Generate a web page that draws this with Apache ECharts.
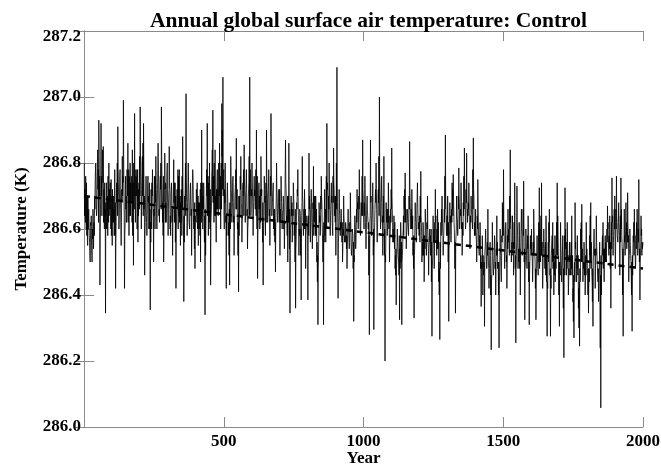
<!DOCTYPE html>
<html>
<head>
<meta charset="utf-8">
<script src="https://cdn.jsdelivr.net/npm/echarts@6/dist/echarts.min.js"></script>
<style>html,body{margin:0;padding:0;background:#fff}#c{width:661px;height:466px}</style>
</head>
<body>
<div id="c"></div>
<script>
const TITLE = 'Annual global surface air temperature: Control';
const X_NAME = 'Year';
const Y_NAME = 'Temperature (K)';
const X_TICKS = [500, 1000, 1500, 2000];
const Y_TICKS = [286.0, 286.2, 286.4, 286.6, 286.8, 287.0, 287.2];
const YEAR_START = 1;
const YEAR_STEP = 1;
// years 1,5,9,... (peaks/troughs)
const temps1 = [286.80,286.62,286.74,286.55,286.66,286.52,286.61,286.50,286.64,286.58,
286.78,286.64,286.84,286.93,286.43,286.92,286.70,286.85,286.60,286.345,
286.72,286.58,286.80,286.66,286.75,286.55,286.70,286.62,286.42,286.74,
286.91,286.60,286.78,286.55,286.82,286.99,286.42,286.76,286.64,286.86,
286.58,286.80,286.68,286.84,286.49,286.95,286.62,286.78,286.56,286.74,
286.97,286.60,286.82,286.92,286.46,286.70,286.58,286.76,286.64,286.355,
286.68,286.78,286.50,286.72,286.82,286.60,286.86,286.66,286.76,286.97,
286.62,286.50,286.83,286.68,286.78,286.58,286.85,286.64,286.74,286.52,
286.81,286.66,286.42,286.72,286.60,286.78,286.55,286.70,286.88,286.38,
286.66,287.01,286.58,286.80,286.62,286.74,286.52,286.78,286.60,286.48];
const temps2 = [286.62,286.74,286.55,286.68,286.50,286.90,286.60,286.72,286.34,286.66,
286.92,286.58,286.80,286.43,286.76,286.96,286.62,286.84,286.56,286.78,
286.66,286.86,286.60,286.98,287.06,286.64,286.80,286.42,286.74,286.58,
286.43,286.82,286.62,286.76,286.52,286.72,286.875,286.60,286.41,286.70,
286.82,286.56,286.74,286.855,286.62,286.78,286.54,286.70,287.06,286.64,
286.80,286.58,286.76,286.66,286.90,286.45,286.72,286.60,286.82,286.64,
286.43,286.76,286.58,286.90,286.62,286.78,286.55,286.95,286.66,286.74,
286.58,286.47,286.80,286.62,286.72,286.52,286.76,286.60,286.70,286.54,
286.87,286.62,286.50,286.86,286.345,286.70,286.56,286.74,286.60,286.36,
286.68,286.78,286.52,286.66,286.385,286.82,286.58,286.72,286.48,286.64];
const temps3 = [286.385,286.83,286.60,286.72,286.54,286.79,286.62,286.70,286.50,286.31,
286.68,286.58,286.76,286.62,286.31,286.72,286.56,286.92,286.64,286.80,
286.58,286.74,286.62,286.845,286.66,286.52,287.09,286.39,286.72,286.58,
286.66,286.50,286.70,286.56,286.62,286.48,286.66,286.54,286.71,286.52,
286.60,286.32,286.64,286.56,286.72,286.60,286.78,286.58,286.68,286.87,
286.62,286.76,286.54,286.70,286.60,286.28,286.87,286.58,286.74,286.295,
286.66,286.80,286.56,286.72,287.00,286.60,286.76,286.52,286.82,286.20,
286.68,286.58,286.74,286.50,286.66,286.845,286.56,286.64,286.48,286.37,
286.60,286.52,286.325,286.62,286.31,286.58,286.70,286.77,286.54,286.66,
286.58,286.865,286.60,286.72,286.52,286.33,286.68,286.56,286.74,286.60];
const temps4 = [286.60,286.775,286.50,286.62,286.44,286.66,286.52,286.70,286.46,286.60,
286.54,286.275,286.64,286.48,286.72,286.56,286.66,286.44,286.265,286.62,
286.70,286.52,286.66,286.885,286.58,286.70,286.32,286.68,286.56,286.74,
286.765,286.60,286.345,286.70,286.58,286.785,286.62,286.74,286.52,286.68,
286.845,286.60,286.83,286.66,286.74,286.54,286.70,286.62,286.876,286.58,
286.66,286.50,286.75,286.56,286.62,286.365,286.58,286.46,286.305,286.60,
286.48,286.66,286.42,286.56,286.234,286.62,286.46,286.58,286.40,286.64,
286.50,286.24,286.60,286.44,286.68,286.78,286.48,286.62,286.42,286.66,
286.54,286.84,286.50,286.64,286.46,286.74,286.255,286.73,286.48,286.62,
286.40,286.66,286.52,286.745,286.325,286.60,286.48,286.64,286.31,286.58];
const temps5 = [286.60,286.44,286.66,286.52,286.325,286.58,286.46,286.725,286.50,286.74,
286.42,286.60,286.48,286.64,286.275,286.56,286.66,286.275,286.52,286.62,
286.40,286.58,286.48,286.74,286.54,286.305,286.62,286.44,286.58,286.21,
286.725,286.50,286.62,286.40,286.56,286.46,286.64,286.38,286.27,286.68,
286.46,286.58,286.36,286.245,286.60,286.675,286.44,286.56,286.40,286.62,
286.48,286.345,286.58,286.68,286.46,286.305,286.60,286.42,286.64,286.50,
286.38,286.56,286.058,286.52,286.62,286.44,286.58,286.50,286.67,286.54,
286.64,286.36,286.755,286.52,286.66,286.48,286.76,286.58,286.68,286.46,
286.755,286.56,286.275,286.66,286.52,286.62,286.71,286.44,286.60,286.50,
286.29,286.58,286.66,286.48,286.62,286.52,286.75,286.385,286.64,286.56];
// years 2,6,10,... (band core)
const qa1 = [286.64,286.76,286.58,286.70,286.62,286.50,286.64,286.60,286.54,286.70,
286.80,286.66,286.72,286.82,286.60,286.70,286.84,286.62,286.74,286.68,
286.60,286.76,286.64,286.74,286.58,286.72,286.62,286.78,286.56,286.68,
286.78,286.64,286.72,286.62,286.70,286.80,286.58,286.66,286.78,286.62,
286.76,286.64,286.74,286.58,286.80,286.70,286.76,286.60,286.72,286.66,
286.84,286.66,286.70,286.78,286.58,286.76,286.62,286.68,286.74,286.62,
286.60,286.72,286.66,286.60,286.74,286.66,286.80,286.62,286.72,286.82,
286.68,286.60,286.72,286.62,286.80,286.66,286.74,286.58,286.70,286.62,
286.68,286.74,286.60,286.66,286.76,286.62,286.68,286.58,286.74,286.64,
286.72,286.78,286.62,286.74,286.60,286.70,286.62,286.76,286.64,286.58];
const qa2 = [286.72,286.60,286.68,286.62,286.74,286.64,286.70,286.60,286.66,286.72,
286.64,286.74,286.70,286.62,286.78,286.68,286.80,286.64,286.72,286.66,
286.80,286.66,286.74,286.82,286.70,286.60,286.72,286.64,286.70,286.62,
286.68,286.76,286.62,286.70,286.60,286.74,286.66,286.62,286.70,286.64,
286.74,286.62,286.70,286.76,286.66,286.72,286.60,286.74,286.70,286.66,
286.74,286.64,286.70,286.72,286.66,286.58,286.74,286.66,286.76,286.62,
286.58,286.72,286.66,286.76,286.64,286.72,286.62,286.80,286.68,286.60,
286.66,286.60,286.72,286.64,286.68,286.62,286.72,286.64,286.68,286.60,
286.74,286.64,286.60,286.70,286.56,286.64,286.60,286.70,286.62,286.54,
286.66,286.70,286.60,286.64,286.56,286.70,286.62,286.66,286.58,286.64];
const qa3 = [286.60,286.66,286.56,286.68,286.62,286.58,286.70,286.62,286.56,286.48,
286.66,286.60,286.70,286.56,286.62,286.58,286.68,286.72,286.62,286.74,
286.64,286.68,286.58,286.74,286.70,286.60,286.74,286.56,286.66,286.62,
286.60,286.54,286.64,286.58,286.60,286.54,286.62,286.56,286.64,286.52,
286.58,286.52,286.62,286.60,286.66,286.62,286.70,286.60,286.64,286.72,
286.60,286.70,286.58,286.66,286.62,286.50,286.68,286.62,286.68,286.54,
286.66,286.72,286.60,286.68,286.76,286.62,286.70,286.58,286.66,286.52,
286.64,286.60,286.68,286.56,286.62,286.70,286.60,286.58,286.52,286.48,
286.56,286.50,286.54,286.58,286.50,286.60,286.66,286.68,286.58,286.64,
286.62,286.72,286.62,286.66,286.56,286.52,286.64,286.58,286.68,286.62];
const qa4 = [286.56,286.64,286.54,286.60,286.50,286.62,286.56,286.60,286.52,286.56,
286.60,286.48,286.58,286.54,286.62,286.52,286.60,286.50,286.56,286.58,
286.64,286.56,286.62,286.70,286.60,286.64,286.54,286.62,286.58,286.66,
286.70,286.60,286.56,286.64,286.60,286.70,286.62,286.68,286.58,286.64,
286.72,286.62,286.70,286.64,286.68,286.58,286.66,286.60,286.72,286.62,
286.60,286.54,286.66,286.52,286.58,286.50,286.54,286.46,286.52,286.56,
286.50,286.56,286.46,286.52,286.44,286.54,286.48,286.56,286.46,286.52,
286.48,286.44,286.54,286.50,286.58,286.62,286.52,286.58,286.48,286.56,
286.52,286.62,286.54,286.58,286.50,286.60,286.48,286.62,286.52,286.58,
286.50,286.60,286.54,286.62,286.48,286.56,286.52,286.58,286.46,286.54];
const qa5 = [286.54,286.48,286.60,286.50,286.44,286.52,286.56,286.48,286.58,286.52,
286.46,286.56,286.50,286.58,286.44,286.50,286.54,286.46,286.56,286.48,
286.50,286.44,286.56,286.52,286.46,286.50,286.56,286.48,286.44,286.52,
286.54,286.46,286.56,286.44,286.50,286.52,286.46,286.42,286.48,286.54,
286.44,286.50,286.42,286.48,286.54,286.50,286.46,286.52,286.44,286.50,
286.46,286.42,286.52,286.48,286.44,286.50,286.54,286.48,286.56,286.50,
286.46,286.40,286.52,286.56,286.48,286.54,286.50,286.56,286.60,286.52,
286.58,286.50,286.62,286.56,286.60,286.54,286.64,286.56,286.62,286.54,
286.60,286.52,286.48,286.56,286.60,286.54,286.62,286.50,286.56,286.46,
286.52,286.56,286.60,286.50,286.58,286.54,286.62,286.50,286.58,286.54];
// years 3,7,11,... (band core)
const mid1 = [286.72,286.68,286.64,286.60,286.58,286.56,286.55,286.57,286.60,286.66,
286.72,286.74,286.78,286.70,286.66,286.76,286.78,286.72,286.64,286.60,
286.66,286.70,286.72,286.68,286.64,286.62,286.66,286.58,286.62,286.80,
286.74,286.70,286.66,286.72,286.76,286.70,286.62,286.70,286.74,286.72,
286.70,286.74,286.76,286.66,286.72,286.78,286.70,286.66,286.64,286.82,
286.76,286.72,286.86,286.66,286.62,286.64,286.68,286.70,286.60,286.56,
286.74,286.66,286.64,286.76,286.70,286.72,286.74,286.70,286.80,286.74,
286.58,286.66,286.74,286.72,286.68,286.70,286.72,286.70,286.62,286.66,
286.74,286.56,286.60,286.66,286.70,286.66,286.62,286.76,286.62,286.56,
286.80,286.70,286.68,286.70,286.66,286.64,286.68,286.70,286.54,286.62];
const mid2 = [286.68,286.64,286.62,286.58,286.70,286.74,286.66,286.56,286.52,286.78,
286.72,286.68,286.60,286.62,286.84,286.76,286.72,286.70,286.66,286.72,
286.74,286.72,286.80,286.90,286.76,286.72,286.62,286.58,286.66,286.52,
286.64,286.72,286.68,286.62,286.64,286.78,286.70,286.52,286.58,286.76,
286.68,286.64,286.78,286.72,286.70,286.64,286.62,286.82,286.78,286.72,
286.70,286.68,286.72,286.78,286.60,286.62,286.66,286.72,286.70,286.56,
286.62,286.68,286.74,286.72,286.70,286.64,286.76,286.74,286.70,286.64,
286.56,286.66,286.70,286.66,286.62,286.66,286.68,286.64,286.60,286.70,
286.72,286.58,286.70,286.54,286.60,286.64,286.66,286.68,286.50,286.56,
286.72,286.64,286.58,286.52,286.64,286.68,286.66,286.60,286.58,286.62];
const mid3 = [286.64,286.70,286.66,286.62,286.68,286.70,286.66,286.58,286.44,286.52,
286.62,286.70,286.68,286.50,286.56,286.62,286.76,286.74,286.70,286.68,
286.66,286.70,286.76,286.72,286.62,286.80,286.68,286.58,286.64,286.60,
286.56,286.60,286.62,286.56,286.54,286.58,286.60,286.62,286.58,286.56,
286.48,286.50,286.60,286.66,286.68,286.70,286.66,286.64,286.76,286.70,
286.68,286.62,286.64,286.66,286.46,286.62,286.70,286.64,286.52,286.56,
286.72,286.66,286.64,286.82,286.74,286.68,286.62,286.70,286.52,286.50,
286.62,286.66,286.60,286.56,286.72,286.66,286.58,286.54,286.46,286.50,
286.54,286.46,286.48,286.50,286.52,286.64,286.72,286.62,286.60,286.62,
286.70,286.68,286.66,286.60,286.48,286.54,286.62,286.66,286.64,286.58];
const mid4 = [286.70,286.62,286.56,286.52,286.58,286.60,286.62,286.56,286.52,286.58,
286.44,286.50,286.56,286.62,286.64,286.60,286.54,286.40,286.48,286.66,
286.60,286.58,286.76,286.70,286.64,286.50,286.56,286.64,286.66,286.72,
286.66,286.48,286.56,286.64,286.70,286.68,286.66,286.60,286.62,286.76,
286.70,286.72,286.70,286.68,286.62,286.64,286.66,286.78,286.70,286.60,
286.58,286.64,286.62,286.58,286.48,286.50,286.40,286.48,286.52,286.54,
286.56,286.50,286.48,286.40,286.46,286.52,286.50,286.48,286.54,286.56,
286.40,286.46,286.52,286.58,286.66,286.60,286.54,286.50,286.58,286.60,
286.70,286.64,286.56,286.54,286.62,286.48,286.52,286.60,286.54,286.48,
286.56,286.58,286.66,286.50,286.48,286.54,286.58,286.44,286.50,286.56];
const mid5 = [286.52,286.56,286.58,286.42,286.48,286.52,286.62,286.60,286.64,286.56,
286.52,286.54,286.56,286.44,286.42,286.62,286.46,286.42,286.58,286.50,
286.48,286.52,286.62,286.64,286.40,286.48,286.52,286.50,286.36,286.58,
286.60,286.56,286.50,286.48,286.50,286.56,286.50,286.32,286.50,286.56,
286.52,286.46,286.30,286.44,286.62,286.54,286.50,286.46,286.52,286.54,
286.40,286.48,286.64,286.56,286.38,286.50,286.52,286.54,286.56,286.44,
286.46,286.24,286.40,286.58,286.52,286.50,286.56,286.60,286.62,286.58,
286.48,286.62,286.64,286.58,286.70,286.66,286.62,286.56,286.62,286.64,
286.66,286.40,286.54,286.58,286.68,286.60,286.56,286.52,286.54,286.40,
286.46,286.62,286.56,286.58,286.66,286.60,286.50,286.52,286.60,286.54];
// years 4,8,12,... (band core)
const qb1 = [286.68,286.60,286.70,286.64,286.56,286.62,286.52,286.66,286.62,286.74,
286.66,286.80,286.62,286.76,286.72,286.64,286.74,286.70,286.66,286.74,
286.70,286.62,286.72,286.60,286.70,286.66,286.58,286.68,286.72,286.64,
286.70,286.76,286.60,286.68,286.74,286.64,286.72,286.62,286.70,286.78,
286.64,286.70,286.62,286.74,286.66,286.62,286.72,286.78,286.64,286.70,
286.72,286.80,286.64,286.70,286.68,286.62,286.74,286.60,286.66,286.72,
286.70,286.64,286.76,286.68,286.62,286.78,286.64,286.74,286.66,286.70,
286.76,286.68,286.62,286.74,286.64,286.72,286.60,286.70,286.66,286.74,
286.62,286.70,286.66,286.78,286.64,286.70,286.72,286.66,286.60,286.70,
286.64,286.68,286.74,286.62,286.70,286.66,286.74,286.62,286.68,286.64];
const qb2 = [286.64,286.70,286.60,286.72,286.62,286.68,286.74,286.64,286.60,286.70,
286.76,286.62,286.72,286.66,286.70,286.76,286.64,286.70,286.74,286.64,
286.70,286.76,286.66,286.72,286.78,286.68,286.64,286.70,286.62,286.66,
286.60,286.70,286.74,286.64,286.70,286.66,286.72,286.62,286.66,286.72,
286.66,286.72,286.64,286.70,286.74,286.66,286.70,286.64,286.74,286.70,
286.66,286.72,286.68,286.64,286.76,286.66,286.70,286.62,286.72,286.68,
286.64,286.70,286.62,286.70,286.74,286.66,286.70,286.64,286.72,286.66,
286.62,286.70,286.64,286.68,286.72,286.62,286.68,286.66,286.62,286.70,
286.66,286.70,286.62,286.66,286.62,286.68,286.64,286.58,286.66,286.62,
286.70,286.62,286.66,286.60,286.68,286.64,286.60,286.66,286.62,286.60];
const qb3 = [286.58,286.64,286.68,286.60,286.66,286.62,286.58,286.66,286.52,286.58,
286.64,286.66,286.62,286.58,286.64,286.66,286.60,286.70,286.66,286.62,
286.70,286.62,286.68,286.64,286.70,286.66,286.62,286.64,286.60,286.66,
286.62,286.58,286.56,286.62,286.58,286.62,286.56,286.60,286.54,286.60,
286.56,286.60,286.54,286.62,286.64,286.66,286.60,286.68,286.64,286.66,
286.64,286.58,286.68,286.62,286.58,286.64,286.60,286.66,286.60,286.62,
286.68,286.60,286.70,286.64,286.66,286.70,286.64,286.62,286.60,286.58,
286.66,286.62,286.64,286.60,286.66,286.62,286.56,286.62,286.54,286.56,
286.52,286.58,286.50,286.56,286.54,286.58,286.62,286.66,286.62,286.60,
286.66,286.64,286.60,286.64,286.58,286.62,286.60,286.66,286.60,286.64];
const qb4 = [286.62,286.58,286.52,286.58,286.54,286.56,286.60,286.54,286.58,286.52,
286.56,286.52,286.60,286.56,286.58,286.54,286.62,286.48,286.54,286.62,
286.58,286.62,286.66,286.62,286.58,286.62,286.60,286.58,286.62,286.64,
286.62,286.56,286.60,286.62,286.66,286.60,286.64,286.62,286.58,286.66,
286.64,286.68,286.62,286.66,286.60,286.62,286.64,286.66,286.62,286.58,
286.56,286.60,286.56,286.54,286.52,286.48,286.52,286.50,286.56,286.50,
286.52,286.48,286.54,286.46,286.50,286.48,286.54,286.50,286.52,286.48,
286.50,286.52,286.48,286.56,286.58,286.54,286.56,286.52,286.54,286.58,
286.60,286.56,286.52,286.56,286.54,286.52,286.56,286.54,286.50,286.54,
286.56,286.52,286.58,286.54,286.52,286.50,286.54,286.50,286.54,286.52];
const qb5 = [286.50,286.52,286.54,286.48,286.52,286.48,286.50,286.56,286.52,286.50,
286.54,286.50,286.46,286.52,286.50,286.56,286.48,286.52,286.50,286.54,
286.46,286.50,286.52,286.58,286.50,286.46,286.52,286.50,286.48,286.46,
286.52,286.48,286.52,286.46,286.52,286.48,286.52,286.46,286.44,286.50,
286.48,286.52,286.44,286.46,286.50,286.52,286.48,286.50,286.46,286.52,
286.48,286.44,286.50,286.54,286.48,286.50,286.54,286.52,286.50,286.48,
286.50,286.46,286.48,286.52,286.54,286.56,286.52,286.56,286.58,286.54,
286.56,286.54,286.58,286.62,286.56,286.60,286.58,286.62,286.58,286.56,
286.58,286.54,286.56,286.52,286.58,286.56,286.58,286.54,286.52,286.50,
286.54,286.52,286.56,286.54,286.60,286.56,286.54,286.56,286.52,286.56];
const trendYears = [0, 2000];
const trendTemps = [286.70, 286.48];

const vA = [].concat(temps1, temps2, temps3, temps4, temps5);
const vB = [].concat(qa1, qa2, qa3, qa4, qa5);
const vC = [].concat(mid1, mid2, mid3, mid4, mid5);
const vD = [].concat(qb1, qb2, qb3, qb4, qb5);
const temps = [];
vA.forEach((v, i) => { temps.push(v, vB[i], vC[i], vD[i]); });
const seriesData = temps.map((v, i) => [YEAR_START + YEAR_STEP * i, v]);
const trendData = trendYears.map((y, i) => [y, trendTemps[i]]);

const FONT = 'Liberation Serif';
const gray = '#8a8a8a';
const chart = echarts.init(document.getElementById('c'), null, {renderer: 'canvas'});
const xBase = {type: 'value', min: 0, max: 2000, interval: 500,
  axisLine: {show: true, lineStyle: {color: gray, width: 1}},
  axisTick: {show: true, inside: true, length: 10, lineStyle: {color: gray}},
  splitLine: {show: false}};
const yBase = {type: 'value', min: 286.0, max: 287.2, interval: 0.2,
  axisLine: {show: true, lineStyle: {color: gray, width: 1}},
  axisTick: {show: true, inside: true, length: 10, lineStyle: {color: gray}},
  splitLine: {show: false}};
chart.setOption({
  animation: false,
  backgroundColor: '#fff',
  title: {text: TITLE, left: 363.5, textAlign: 'center', top: 5,
    textStyle: {fontFamily: FONT, fontWeight: 'bold', fontSize: 21.5, color: '#000'}},
  grid: {left: 84, right: 18, top: 31, bottom: 39, containLabel: false, outerBoundsMode: 'none'},
  xAxis: [
    Object.assign({}, xBase, {position: 'bottom', name: X_NAME, nameLocation: 'middle', nameGap: 23,
      nameMoveOverlap: false,
      nameTextStyle: {fontFamily: FONT, fontWeight: 'bold', fontSize: 17, color: '#000'},
      axisLabel: {show: true, margin: 6, fontFamily: FONT, fontWeight: 'bold', fontSize: 17, color: '#000',
        formatter: v => X_TICKS.indexOf(v) >= 0 ? String(v) : ''}}),
    Object.assign({}, xBase, {position: 'top', axisLabel: {show: false}})
  ],
  yAxis: [
    Object.assign({}, yBase, {position: 'left', name: Y_NAME, nameLocation: 'middle', nameGap: 54,
      nameTextStyle: {fontFamily: FONT, fontWeight: 'bold', fontSize: 17, color: '#000'},
      axisLabel: {show: true, margin: 3, fontFamily: FONT, fontWeight: 'bold', fontSize: 17, color: '#000',
        formatter: v => {
          const s = v.toFixed(1);
          return Math.abs(v - Y_TICKS[Y_TICKS.length - 1]) < 1e-6 ? '{top|' + s + '}' : s;
        },
        rich: {top: {fontFamily: FONT, fontWeight: 'bold', fontSize: 17, color: '#000', padding: [12, 0, 0, 0]}}}}),
    Object.assign({}, yBase, {position: 'right', axisLabel: {show: false}})
  ],
  series: [
    {type: 'line', data: seriesData, xAxisIndex: 0, yAxisIndex: 0, showSymbol: false, symbol: 'none',
      sampling: null, silent: true, lineStyle: {color: '#000', width: 0.8}},
    {type: 'line', data: trendData, xAxisIndex: 0, yAxisIndex: 0, showSymbol: false, symbol: 'none',
      silent: true, z: 5, lineStyle: {color: '#000', width: 2.5, type: [6, 5]}}
  ]
});
</script>
</body>
</html>
